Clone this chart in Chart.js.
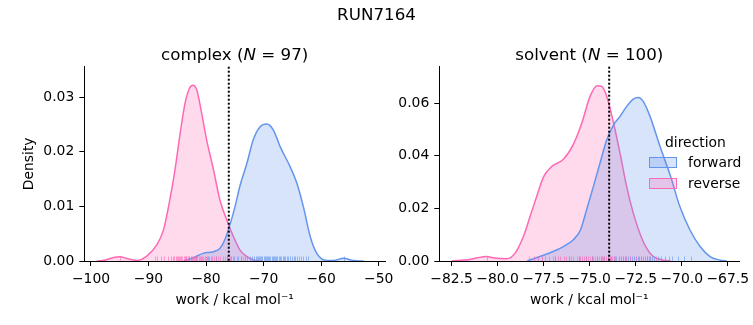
<!DOCTYPE html>
<html>
<head>
<meta charset="utf-8">
<script src="https://cdn.jsdelivr.net/npm/chart.js@4.4.1/dist/chart.umd.min.js"></script>
<style>
  html, body { margin: 0; padding: 0; background: #fff; }
  #fig { position: relative; width: 753px; height: 325px; overflow: hidden;
         font-family: 'DejaVu Sans', sans-serif; color: #000; }
  #fig canvas { position: absolute; top: 0; }
  .txt { position: absolute; white-space: nowrap; line-height: normal; }
  .suptitle { font-size: 16.7px; }
  .axtitle { font-size: 16.7px; transform: translateX(-50%); }
  .leg { font-size: 13.9px; }
  .patch { position: absolute; box-sizing: border-box; width: 28px; height: 11px; border: 1.5px solid; }
</style>
</head>
<body>
<div id="fig">
  <canvas id="complexChart" width="400" height="325" style="left:0px"></canvas>
  <canvas id="solventChart" width="363" height="325" style="left:390px"></canvas>
  <div class="txt suptitle" style="left:376.5px; top:3.5px; transform:translateX(-50%)">RUN7164</div>
  <div class="txt axtitle" style="left:234.7px; top:44px">complex (<i>N</i> = 97)</div>
  <div class="txt axtitle" style="left:589.3px; top:44px">solvent (<i>N</i> = 100)</div>
  <div class="txt leg" style="left:665px; top:133.6px">direction</div>
  <div class="patch" style="left:649px; top:157px; background:rgba(100,149,237,0.25); border-color:#6495ed"></div>
  <div class="txt leg" style="left:688px; top:153.6px">forward</div>
  <div class="patch" style="left:649px; top:178px; background:rgba(255,105,180,0.25); border-color:#ff69b4"></div>
  <div class="txt leg" style="left:688px; top:174.6px">reverse</div>
</div>
<script>
// complex leg: KDE curves (work in kcal/mol, density)
const complexForwardX = [-83.9, -82.2, -80.5, -78.7, -77.6, -76.7, -75.8, -74.95, -74.1, -72.9, -71.8, -70.6, -69.45,
  -68.3, -67.1, -65.4, -64.2, -63.1, -61.9, -60.75, -59.0, -57.85, -56.1, -54.4, -52.6];
const complexForwardDensity = [0, 0.0006, 0.0014, 0.0017, 0.0023, 0.0040, 0.0068, 0.0100, 0.0138, 0.0179, 0.0222, 0.0246, 0.0251,
  0.0240, 0.0209, 0.0173, 0.0142, 0.0100, 0.0045, 0.0014, 0.0001, 0.0001, 0.0005, 0.0001, 0];
const complexReverseX = [-99.0, -97.5, -96.2, -95.0, -93.6, -92.0, -90.3, -88.6, -87.4, -86.3, -85.4, -84.5, -83.65,
  -82.9, -82.3, -81.6, -80.75, -79.9, -78.7, -77.6, -76.4, -75.25, -74.1, -72.9, -71.5, -70.3];
const complexReverseDensity = [0, 0.0002, 0.0006, 0.0008, 0.0004, 0.0001, 0.0009, 0.0029, 0.0057, 0.0112, 0.0167, 0.0234, 0.0289,
  0.0316, 0.0322, 0.0313, 0.0270, 0.0222, 0.0167, 0.0112, 0.0075, 0.0045, 0.0020, 0.0008, 0.0001, 0];

// solvent leg
const solventForwardX = [-78.4, -77.7, -76.98, -76.43, -75.9, -75.5, -75.17, -74.8, -74.44, -74.07, -73.7, -73.35, -72.99,
  -72.63, -72.36, -72.09, -71.72, -71.18, -70.6, -70.1, -69.55, -69.0, -68.46, -67.9, -67.55];
const solventForwardDensity = [0, 0.0017, 0.0036, 0.0055, 0.0080, 0.0118, 0.0194, 0.0283, 0.0372, 0.0461, 0.0518, 0.0550, 0.0588,
  0.0616, 0.0622, 0.0607, 0.0550, 0.0436, 0.0321, 0.0207, 0.0118, 0.0055, 0.0017, 0.0003, 0];
const solventReverseX = [-82.5, -81.5, -80.64, -80.05, -79.5, -79.06, -78.6, -78.24, -77.88, -77.5, -77.07, -76.43, -75.9,
  -75.43, -74.98, -74.6, -74.35, -74.07, -73.7, -73.35, -72.99, -72.63, -72.27, -71.9, -71.54, -71.0, -70.6];
const solventReverseDensity = [0, 0.0006, 0.0017, 0.0010, 0.0009, 0.0029, 0.0093, 0.0169, 0.0245, 0.0321, 0.0359, 0.0387, 0.0442,
  0.0524, 0.0626, 0.0667, 0.0664, 0.0626, 0.0524, 0.0410, 0.0283, 0.0182, 0.0105, 0.0048, 0.0017, 0.0003, 0];

// rug samples (approximate individual work values)
const complexForwardWork = [-79.6, -78.3, -76.4, -75.6, -75.1, -74.5, -73.9, -73.3, -72.8, -72.4, -72.0, -71.7, -71.4, -71.2,
  -71.0, -70.8, -70.6, -70.4, -70.2, -70.0, -69.8, -69.6, -69.4, -69.2, -69.0, -68.8, -68.6, -68.4, -68.2, -68.0, -67.8,
  -67.6, -67.4, -67.2, -67.0, -66.7, -66.5, -66.2, -66.0, -65.7, -65.4, -65.1, -64.8, -64.5, -64.2, -63.9, -63.5, -63.1,
  -62.7, -62.3, -56.1];
const complexReverseWork = [-95.0, -88.9, -88.6, -87.9, -87.3, -86.6, -86.1, -85.8, -85.6, -85.3, -85.1, -84.9, -84.7, -84.5,
  -84.3, -84.1, -83.9, -83.7, -83.5, -83.4, -83.2, -83.0, -82.9, -82.7, -82.6, -82.4, -82.3, -82.1, -82.0, -81.8, -81.7,
  -81.5, -81.3, -81.1, -80.9, -80.7, -80.5, -80.2, -80.0, -79.8, -79.5, -79.2, -78.9, -78.6, -78.2, -77.9, -77.5, -77.1,
  -76.7, -76.3, -75.8, -75.3, -74.7, -74.0, -73.5];
const solventForwardWork = [-77.8, -76.9, -76.1, -75.6, -75.2, -74.9, -74.6, -74.4, -74.2, -74.0, -73.85, -73.7, -73.55, -73.4,
  -73.3, -73.2, -73.1, -73.0, -72.9, -72.8, -72.7, -72.6, -72.5, -72.4, -72.3, -72.2, -72.1, -72.0, -71.9, -71.8, -71.7,
  -71.6, -71.5, -71.3, -71.1, -70.9, -70.7, -70.5, -70.2, -69.9, -69.5];
const solventReverseWork = [-80.6, -78.3, -78.0, -77.8, -77.6, -77.4, -77.2, -77.0, -76.9, -76.7, -76.6, -76.4, -76.3, -76.1,
  -76.0, -75.9, -75.7, -75.6, -75.5, -75.4, -75.3, -75.2, -75.1, -75.0, -74.9, -74.8, -74.7, -74.6, -74.5, -74.4, -74.35,
  -74.3, -74.2, -74.1, -74.0, -73.9, -73.8, -73.7, -73.6, -73.4, -73.2, -73.0, -72.8, -72.5, -72.2, -71.9, -71.4];

// dotted reference lines
const complexEstimate = -76.05;
const solventEstimate = -73.94;

// axes
const complexXTicks = [-100, -90, -80, -70, -60, -50];
const complexYTicks = [0, 0.01, 0.02, 0.03];
const solventXTicks = [-82.5, -80, -77.5, -75, -72.5, -70, -67.5];
const solventYTicks = [0, 0.02, 0.04, 0.06];

const BLUE = '#6495ed';
const PINK = '#ff69b4';
const FONT = { family: "'DejaVu Sans', sans-serif", size: 13.9 };
const minus = s => s.replace('-', '\u2212');

function points(xs, ys) {
    return xs.map((x, i) => ({ x: x, y: ys[i] }));
}

function kde(label, xs, ys, color, fill) {
    return {
        label: label,
        data: points(xs, ys),
        borderColor: color,
        backgroundColor: fill,
        borderWidth: 1.5,
        fill: 'origin',
        pointRadius: 0,
        cubicInterpolationMode: 'monotone'
    };
}

// rug marks + vertical dotted line drawn through the x scale
function overlay(rugs, estimate) {
    return {
        id: 'overlay',
        afterDatasetsDraw(chart) {
            const { ctx, chartArea } = chart;
            const x = chart.scales.x;
            ctx.save();
            ctx.lineWidth = 1;
            rugs.forEach(r => {
                ctx.strokeStyle = r.color;
                r.values.forEach(v => {
                    const px = Math.round(x.getPixelForValue(v)) + 0.5;
                    ctx.beginPath();
                    ctx.moveTo(px, chartArea.bottom);
                    ctx.lineTo(px, chartArea.bottom - 4.5);
                    ctx.stroke();
                });
            });
            const px = x.getPixelForValue(estimate);
            ctx.setLineDash([2, 2]);
            ctx.lineWidth = 2;
            ctx.strokeStyle = '#000';
            ctx.beginPath();
            ctx.moveTo(px, chartArea.top);
            ctx.lineTo(px, chartArea.bottom);
            ctx.stroke();
            ctx.restore();
        }
    };
}

function axis(opts) {
    return {
        type: 'linear',
        min: opts.min,
        max: opts.max,
        z: 1,
        afterBuildTicks: s => { s.ticks = opts.ticks.map(v => ({ value: v })); },
        afterFit: s => {
            if (opts.width !== undefined) s.width = opts.width;
            if (opts.height !== undefined) s.height = opts.height;
            s.paddingLeft = s.paddingRight = s.paddingTop = s.paddingBottom = 0;
        },
        ticks: { font: FONT, color: '#000', padding: 5, maxRotation: 0, autoSkip: false, callback: opts.format },
        grid: { display: true, drawOnChartArea: false, drawTicks: true, tickLength: 5, color: '#000', lineWidth: 1 },
        border: { display: true, color: '#000', width: 1 },
        title: opts.title ? { display: true, text: opts.title, font: FONT, color: '#000', padding: opts.titlePadding } : { display: false }
    };
}

function makeChart(canvas, cfg) {
    return new Chart(canvas, {
        type: 'line',
        data: { datasets: cfg.datasets },
        options: {
            responsive: false,
            animation: false,
            layout: { padding: cfg.padding },
            plugins: { legend: { display: false }, tooltip: { enabled: false }, title: { display: false } },
            scales: {
                x: axis({ min: cfg.xmin, max: cfg.xmax, ticks: cfg.xTicks, format: cfg.xFormat, height: 64,
                          title: 'work / kcal mol\u207B\u00B9', titlePadding: { top: 0, bottom: 16.5 } }),
                y: axis({ min: 0, max: cfg.ymax, ticks: cfg.yTicks, format: v => v.toFixed(2), width: cfg.yWidth,
                          title: cfg.yTitle, titlePadding: { top: 20.9, bottom: 0 } })
            }
        },
        plugins: [overlay(cfg.rugs, cfg.estimate)]
    });
}

makeChart(document.getElementById('complexChart'), {
    datasets: [
        kde('forward', complexForwardX, complexForwardDensity, BLUE, 'rgba(100,149,237,0.25)'),
        kde('reverse', complexReverseX, complexReverseDensity, PINK, 'rgba(255,105,180,0.25)')
    ],
    padding: { left: 0, right: 15, top: 66.7, bottom: 0 },
    xmin: -101.16, xmax: -48.9, ymax: 0.0356,
    xTicks: complexXTicks, yTicks: complexYTicks,
    xFormat: v => minus(String(v)),
    yWidth: 84.3, yTitle: 'Density',
    rugs: [{ values: complexForwardWork, color: 'rgba(100,149,237,0.6)' },
           { values: complexReverseWork, color: 'rgba(255,105,180,0.6)' }],
    estimate: complexEstimate
});

makeChart(document.getElementById('solventChart'), {
    datasets: [
        kde('forward', solventForwardX, solventForwardDensity, BLUE, 'rgba(100,149,237,0.25)'),
        kde('reverse', solventReverseX, solventReverseDensity, PINK, 'rgba(255,105,180,0.25)')
    ],
    padding: { left: 0, right: 13.7, top: 66.7, bottom: 0 },
    xmin: -83.17, xmax: -66.87, ymax: 0.0739,
    xTicks: solventXTicks, yTicks: solventYTicks,
    xFormat: v => minus(v.toFixed(1)),
    yWidth: 49.3, yTitle: null,
    rugs: [{ values: solventForwardWork, color: 'rgba(100,149,237,0.6)' },
           { values: solventReverseWork, color: 'rgba(255,105,180,0.6)' }],
    estimate: solventEstimate
});
</script>
</body>
</html>
